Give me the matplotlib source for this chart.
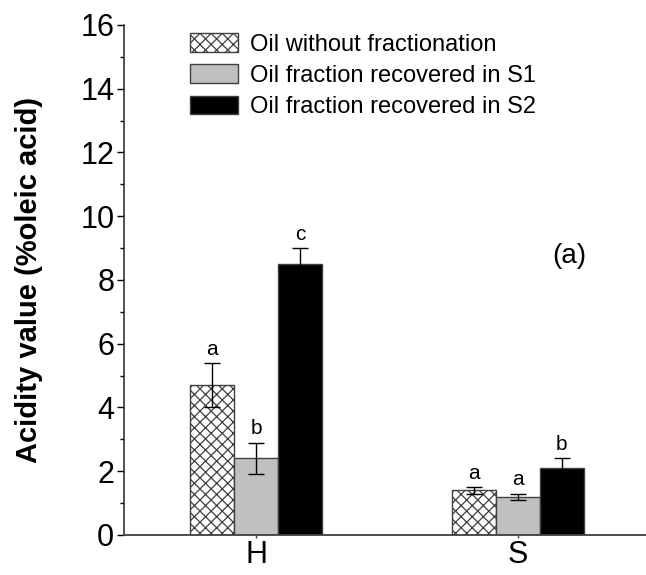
import numpy as np
import matplotlib.pyplot as plt

plt.rcParams['font.family'] = ['Liberation Sans', 'DejaVu Sans']
plt.rcParams['hatch.linewidth'] = 0.9

groups = ['H', 'S']
series = ['Oil without fractionation',
          'Oil fraction recovered in S1',
          'Oil fraction recovered in S2']
values = [[4.7, 1.4],
          [2.4, 1.2],
          [8.5, 2.1]]
errors = [[0.7, 0.1],
          [0.5, 0.1],
          [0.5, 0.3]]
letters = [['a', 'a'],
           ['b', 'a'],
           ['c', 'b']]

fills = ['white', '#c0c0c0', 'black']
hatches = ['xxx', None, None]

fig = plt.figure(figsize=(6.46, 5.75), dpi=100)
ax = fig.add_axes([0.192, 0.0696, 0.808, 0.887])

x = np.arange(1, len(groups) + 1)
w = 0.168
for i, name in enumerate(series):
    pos = x + (i - 1) * w
    ax.bar(pos, values[i], w, color=fills[i], edgecolor='#404040',
           linewidth=1.0, hatch=hatches[i], label=name, zorder=2)
    ax.errorbar(pos, values[i], yerr=errors[i], fmt='none', ecolor='black',
                elinewidth=1.0, capsize=6, capthick=1.0, zorder=3)
    for p, v, e, t in zip(pos, values[i], errors[i], letters[i]):
        ax.annotate(t, (p, v + e), xytext=(0, 6), textcoords='offset points',
                    ha='center', va='baseline', fontsize=15)

ax.set_xlim(0.496, 2.489)
ax.set_ylim(0, 16)
ax.set_yticks(np.arange(0, 17, 2))
ax.set_yticks(np.arange(1, 16, 2), minor=True)
ax.set_xticks(x)
ax.set_xticklabels(groups)
ax.tick_params(axis='y', which='major', length=5, width=1, labelsize=22, pad=2)
ax.tick_params(axis='y', which='minor', length=3, width=1)
ax.tick_params(axis='x', length=2.5, width=1, labelsize=22, pad=1, color='#404040')

for s in ['top', 'right']:
    ax.spines[s].set_visible(False)
ax.spines['left'].set_linewidth(1.1)
ax.spines['left'].set_color('#222222')
ax.spines['bottom'].set_linewidth(1.3)
ax.spines['bottom'].set_color('#404040')

ax.set_ylabel('Acidity value (%oleic acid)', fontsize=21, fontweight='bold')
ax.yaxis.set_label_coords(-0.155, 0.5)

ax.text(0.854, 8.75, '(a)', fontsize=20, ha='center', va='center',
        transform=ax.get_yaxis_transform())

ax.legend(loc='upper left', bbox_to_anchor=(0.094, 1.016), frameon=False,
          fontsize=17, handlelength=2.05, handleheight=0.85, handletextpad=0.5,
          labelspacing=0.36, borderpad=0.2)

fig.savefig('out.png', dpi=100)
